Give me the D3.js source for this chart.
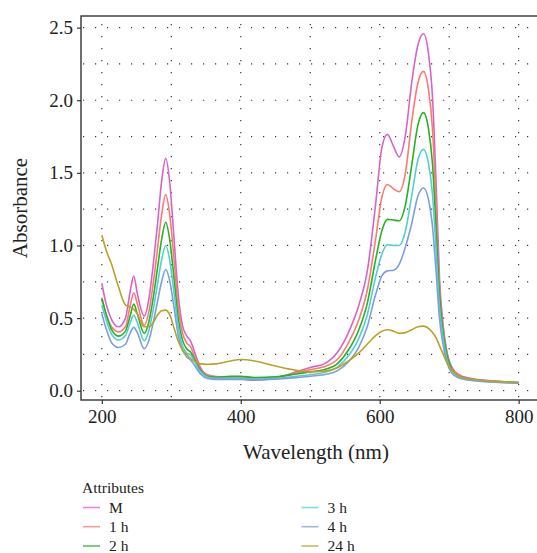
<!DOCTYPE html>
<html>
<head>
<meta charset="utf-8">
<script src="https://cdn.jsdelivr.net/npm/d3@7"></script>
<style>
  body { margin: 0; background: #fff; }
  svg { display: block; font-family: "Liberation Serif", "DejaVu Serif", serif; }
</style>
</head>
<body>
<svg id="chart" width="537" height="553"></svg>
<script>
// wavelength grid (nm) shared by every series
const wavelengths = [200, 206, 214, 224, 234, 241, 246, 251, 261, 268, 274, 280, 286, 292, 298, 304, 310, 316, 322, 328, 334, 342, 352, 365, 385, 400, 420, 450, 480, 500, 520, 540, 555, 570, 582, 594, 603, 611, 620, 628, 637, 646, 655, 663, 670, 676, 681, 686, 691, 697, 704, 714, 730, 760, 800];

const absM   = [0.74, 0.60, 0.49, 0.44, 0.50, 0.69, 0.79, 0.67, 0.514, 0.64, 0.87, 1.14, 1.44, 1.60, 1.42, 1.04, 0.66, 0.45, 0.38, 0.34, 0.26, 0.16, 0.105, 0.092, 0.09, 0.082, 0.072, 0.088, 0.13, 0.16, 0.185, 0.27, 0.40, 0.59, 0.82, 1.28, 1.67, 1.765, 1.68, 1.61, 1.76, 2.12, 2.38, 2.458, 2.33, 2.02, 1.45, 0.78, 0.46, 0.26, 0.16, 0.11, 0.085, 0.068, 0.057];
const abs1h  = [0.64, 0.53, 0.44, 0.405, 0.44, 0.59, 0.674, 0.60, 0.45, 0.55, 0.74, 0.97, 1.21, 1.35, 1.20, 0.90, 0.58, 0.40, 0.33, 0.30, 0.23, 0.15, 0.11, 0.098, 0.095, 0.092, 0.085, 0.092, 0.122, 0.145, 0.165, 0.22, 0.33, 0.49, 0.69, 1.04, 1.33, 1.42, 1.39, 1.37, 1.50, 1.85, 2.12, 2.199, 2.08, 1.80, 1.30, 0.72, 0.44, 0.25, 0.15, 0.105, 0.082, 0.066, 0.056];
const abs2h  = [0.635, 0.53, 0.42, 0.376, 0.41, 0.52, 0.596, 0.53, 0.395, 0.48, 0.64, 0.84, 1.04, 1.16, 1.03, 0.77, 0.50, 0.35, 0.29, 0.265, 0.21, 0.14, 0.10, 0.092, 0.10, 0.10, 0.09, 0.095, 0.115, 0.13, 0.145, 0.19, 0.28, 0.42, 0.60, 0.90, 1.10, 1.18, 1.175, 1.17, 1.28, 1.55, 1.83, 1.915, 1.81, 1.56, 1.13, 0.66, 0.41, 0.24, 0.145, 0.10, 0.08, 0.064, 0.055];
const abs3h  = [0.59, 0.49, 0.39, 0.349, 0.38, 0.47, 0.52, 0.47, 0.344, 0.42, 0.56, 0.73, 0.90, 1.00, 0.89, 0.67, 0.44, 0.31, 0.26, 0.245, 0.195, 0.13, 0.095, 0.085, 0.085, 0.085, 0.08, 0.085, 0.10, 0.11, 0.125, 0.165, 0.24, 0.36, 0.52, 0.78, 0.94, 1.005, 1.0, 1.0, 1.10, 1.34, 1.59, 1.662, 1.57, 1.35, 0.98, 0.58, 0.37, 0.21, 0.135, 0.095, 0.076, 0.062, 0.054];
const abs4h  = [0.53, 0.43, 0.33, 0.298, 0.32, 0.40, 0.436, 0.40, 0.29, 0.35, 0.47, 0.61, 0.75, 0.835, 0.75, 0.57, 0.38, 0.28, 0.234, 0.21, 0.17, 0.115, 0.085, 0.078, 0.078, 0.078, 0.075, 0.08, 0.09, 0.10, 0.11, 0.14, 0.20, 0.30, 0.44, 0.66, 0.79, 0.825, 0.83, 0.87, 0.99, 1.15, 1.34, 1.396, 1.32, 1.13, 0.83, 0.50, 0.32, 0.19, 0.12, 0.088, 0.072, 0.06, 0.052];
const abs24h = [1.07, 0.97, 0.87, 0.715, 0.59, 0.575, 0.56, 0.53, 0.44, 0.44, 0.47, 0.52, 0.55, 0.555, 0.52, 0.43, 0.34, 0.28, 0.25, 0.22, 0.20, 0.185, 0.182, 0.185, 0.205, 0.215, 0.205, 0.17, 0.14, 0.13, 0.135, 0.16, 0.205, 0.26, 0.32, 0.38, 0.41, 0.42, 0.41, 0.395, 0.40, 0.42, 0.44, 0.445, 0.43, 0.40, 0.365, 0.31, 0.255, 0.19, 0.14, 0.10, 0.08, 0.066, 0.058];

const seriesNames = ["M", "1 h", "2 h", "3 h", "4 h", "24 h"];
const seriesValues = [absM, abs1h, abs2h, abs3h, abs4h, abs24h];
const seriesColors = ["#d765c5", "#f97b74", "#23b323", "#56cdd0", "#7c9fdf", "#bba226"];

const xTicks = [200, 400, 600, 800];
const xGrid = [200, 300, 400, 500, 600, 700, 800];
const yTicks = [0, 0.5, 1.0, 1.5, 2.0, 2.5];
const yGrid = [0, 0.25, 0.5, 0.75, 1.0, 1.25, 1.5, 1.75, 2.0, 2.25, 2.5];

const svg = d3.select("#chart");

const panel = { left: 81, top: 16, right: 539.5, bottom: 400 };

const x = d3.scaleLinear().domain([170, 830]).range([panel.left, panel.right]);
const y = d3.scaleLinear().domain([-0.064, 2.58]).range([panel.bottom, panel.top]);

// dotted grid
const grid = svg.append("g")
  .attr("stroke", "#3a3a3a")
  .attr("stroke-width", 1.2)
  .attr("stroke-dasharray", "1.2,10.8");

grid.selectAll(".gy").data(yGrid).join("line")
  .attr("x1", panel.left + 2).attr("x2", panel.right)
  .attr("y1", d => y(d)).attr("y2", d => y(d));

grid.selectAll(".gx").data(xGrid).join("line")
  .attr("y1", panel.top + 8).attr("y2", panel.bottom)
  .attr("x1", d => x(d)).attr("x2", d => x(d));

// curves
const line = d3.line()
  .x(d => x(d[0]))
  .y(d => y(d[1]))
  .curve(d3.curveMonotoneX);

seriesValues.forEach((vals, i) => {
  svg.append("path")
    .datum(wavelengths.map((w, j) => [w, vals[j]]))
    .attr("fill", "none")
    .attr("stroke", seriesColors[i])
    .attr("stroke-width", 1.6)
    .attr("d", line);
});

// panel frame
svg.append("rect")
  .attr("x", panel.left).attr("y", panel.top)
  .attr("width", panel.right - panel.left)
  .attr("height", panel.bottom - panel.top)
  .attr("fill", "none")
  .attr("stroke", "#333")
  .attr("stroke-width", 1.4);

// axes
const xAxis = svg.append("g")
  .attr("transform", `translate(0,${panel.bottom})`)
  .call(d3.axisBottom(x).tickValues(xTicks).tickSize(4).tickPadding(6).tickFormat(d3.format("d")));

const yAxis = svg.append("g")
  .attr("transform", `translate(${panel.left},0)`)
  .call(d3.axisLeft(y).tickValues(yTicks).tickSize(4).tickPadding(4).tickFormat(d3.format(".1f")));

[xAxis, yAxis].forEach(a => {
  a.select(".domain").remove();
  a.selectAll(".tick line").attr("stroke", "#333").attr("stroke-width", 1.2);
  a.selectAll(".tick text")
    .attr("fill", "#222")
    .style("font-family", "Liberation Serif, serif")
    .style("font-size", "19px");
});

// axis titles
svg.append("text")
  .attr("x", 316).attr("y", 459)
  .attr("text-anchor", "middle")
  .attr("fill", "#222")
  .style("font-size", "21px")
  .text("Wavelength (nm)");

svg.append("text")
  .attr("transform", `translate(27,${(panel.top + panel.bottom) / 2}) rotate(-90)`)
  .attr("text-anchor", "middle")
  .attr("fill", "#222")
  .style("font-size", "21px")
  .text("Absorbance");

// legend
const legend = svg.append("g");
legend.append("text")
  .attr("x", 82).attr("y", 493)
  .attr("fill", "#222")
  .style("font-size", "15.5px")
  .text("Attributes");

const legendCols = [83, 301.5];
const legendRows = [507.5, 526.7, 546];

seriesNames.forEach((name, i) => {
  const col = Math.floor(i / 3), row = i % 3;
  const g = legend.append("g")
    .attr("transform", `translate(${legendCols[col]},${legendRows[row]})`);
  g.append("line")
    .attr("x1", 0).attr("x2", 17)
    .attr("stroke", seriesColors[i])
    .attr("stroke-opacity", 0.75)
    .attr("stroke-width", 1.6);
  g.append("text")
    .attr("x", 26).attr("dy", "0.35em")
    .attr("fill", "#222")
    .style("font-size", "15.5px")
    .text(name);
});
</script>
</body>
</html>
